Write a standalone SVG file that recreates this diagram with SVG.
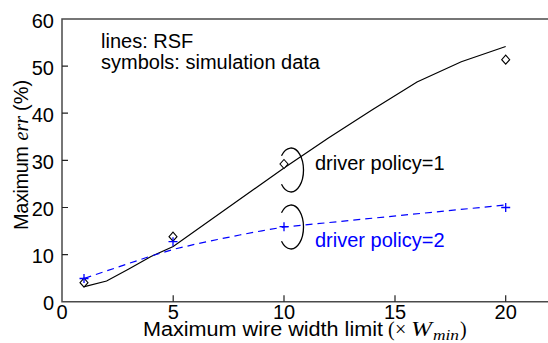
<svg xmlns="http://www.w3.org/2000/svg" xmlns:xlink="http://www.w3.org/1999/xlink" width="548" height="343" viewBox="0 0 548 343">
<style>
.ax{stroke:#4a4a4a;stroke-width:1.5;fill:none}
.tk{stroke:#222;stroke-width:1.2;fill:none}
.t{font-family:"Liberation Sans",Arial,sans-serif;font-size:20px;fill:#000}
.m{font-family:"Liberation Serif","Times New Roman",serif;font-style:italic}
.r{font-family:"Liberation Serif","Times New Roman",serif}
.ylab{text-anchor:end}
.xlab{text-anchor:middle}
.solid{stroke:#000;stroke-width:1.2;fill:none}
.dash{stroke:#0000ff;stroke-width:1.2;fill:none;stroke-dasharray:7 5}
.br{stroke:#000;stroke-width:1.3;fill:none}
</style>
<defs>
<path id="dia" d="M0,-4.5 L4,0 L0,4.5 L-4,0 Z" fill="#fff" stroke="#000" stroke-width="1.1"/>
<path id="plus" d="M-4.5,0 H4.5 M0,-4.5 V4.5" stroke="#0000ff" stroke-width="1.3" fill="none"/>
</defs>
<rect width="548" height="343" fill="#fff"/>
<g id="axes">
<path class="ax" d="M548,19 H62 V301.7 H548"/>
<path class="tk" d="M62,254.6 h6 M62,207.5 h6 M62,160.3 h6 M62,113.2 h6 M62,66.1 h6 M173.2,301.7 v-6.5 M284,301.7 v-6.5 M395,301.7 v-6.5 M505.7,301.7 v-6.5"/>
<g class="t ylab">
<text x="54" y="310">0</text>
<text x="54" y="263">10</text>
<text x="54" y="216">20</text>
<text x="54" y="169">30</text>
<text x="54" y="122">40</text>
<text x="54" y="75">50</text>
<text x="54" y="28">60</text>
</g>
<g class="t xlab">
<text x="62" y="319">0</text>
<text x="173.2" y="319">5</text>
<text x="284" y="319">10</text>
<text x="395" y="319">15</text>
<text x="505.7" y="319">20</text>
</g>
<text class="t" x="143" y="336" textLength="240" lengthAdjust="spacingAndGlyphs">Maximum wire width limit</text>
<text class="t" y="336"><tspan class="r" x="388">(</tspan><tspan class="r" x="395">×</tspan><tspan class="m" x="411" textLength="21" lengthAdjust="spacingAndGlyphs">W</tspan><tspan class="m" x="433" y="340" font-size="15" textLength="26" lengthAdjust="spacingAndGlyphs">min</tspan><tspan class="r" x="460" y="336">)</tspan></text>
<text class="t" transform="rotate(-90)" x="-230" y="28"><tspan textLength="84">Maximum</tspan><tspan class="m" dx="6">err</tspan><tspan dx="5">(%)</tspan></text>
</g>
<g id="legend">
<text class="t" x="101" y="48">lines: RSF</text>
<text class="t" x="101" y="69">symbols: simulation data</text>
</g>
<g id="connectors">
<polyline class="solid" points="84.5,286.7 106.6,281 128.8,269 151,256.5 173.2,246.5 284,168 328.4,138 372.7,109.5 417,82 461.3,61.7 505.7,46.5"/>
<polyline class="dash" points="84.5,278.3 151,256 173.2,249.4 195.4,244.2 217.5,239.5 239.7,235 261.9,230.8 284,227 505.7,205"/>
</g>
<g id="markers">
<use xlink:href="#dia" x="84" y="282.7"/>
<use xlink:href="#dia" x="173" y="236.7"/>
<use xlink:href="#dia" x="284" y="164"/>
<use xlink:href="#dia" x="505.7" y="59.7"/>
<use xlink:href="#plus" x="84" y="278.5"/>
<use xlink:href="#plus" x="173" y="241.7"/>
<use xlink:href="#plus" x="284" y="226.7"/>
<use xlink:href="#plus" x="505.7" y="207.5"/>
</g>
<g id="policy1">
<path class="br" d="M281.5,155.7 A12.5,22 0 1 1 281.5,184.3"/>
<text class="t" x="315" y="170">driver policy=1</text>
</g>
<g id="policy2">
<path class="br" d="M281.5,212.7 A12.5,22 0 1 1 281.5,241.3"/>
<text class="t" x="315" y="247" style="fill:#0000ff">driver policy=2</text>
</g>
</svg>
